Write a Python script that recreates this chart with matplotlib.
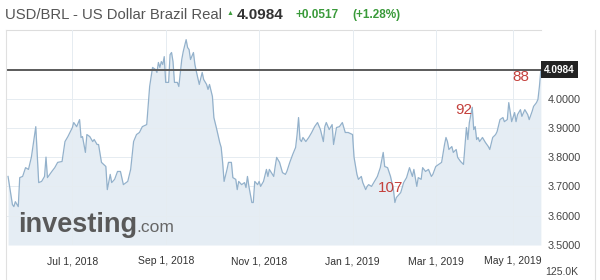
import numpy as np
import matplotlib
matplotlib.use("Agg")
import matplotlib.pyplot as plt
from matplotlib.lines import Line2D
import matplotlib.transforms as mtransforms

plt.rcParams['font.family'] = ['Liberation Sans', 'DejaVu Sans']

# days since 2018-05-17, daily close of USD/BRL
days = [0, 3, 4, 5, 7, 8, 10, 12, 14, 16, 19, 21, 23, 25, 26, 27, 30, 32, 34, 37,
        39, 41, 44, 45, 47, 49, 50, 51, 53, 54, 56, 58, 59, 61, 62, 64, 67, 68, 70, 71,
        73, 75, 77, 79, 82, 84, 86, 88, 90, 92, 95, 97, 99, 101, 102, 103, 104, 105, 106, 107,
        108, 110, 111, 112, 113, 114, 116, 117, 119, 120, 122, 123, 124, 125, 127, 128, 129, 131, 133, 134,
        136, 137, 138, 140, 141, 143, 145, 146, 147, 148, 150, 151, 153, 154, 156, 157, 158, 160, 162, 163,
        164, 165, 167, 168, 169, 171, 172, 173, 175, 177, 178, 179, 182, 183, 184, 186, 188, 190, 191, 193,
        195, 197, 198, 199, 200, 201, 202, 204, 206, 208, 210, 212, 214, 216, 217, 218, 220, 222, 223, 225,
        227, 229, 231, 233, 236, 237, 239, 240, 242, 243, 245, 246, 247, 249, 251, 253, 255, 257, 258, 260,
        262, 264, 265, 266, 269, 271, 273, 275, 277, 278, 280, 281, 283, 284, 286, 288, 290, 291, 293, 295,
        297, 299, 300, 301, 302, 304, 305, 307, 308, 310, 312, 313, 314, 315, 316, 318, 319, 320, 321, 322,
        323, 325, 327, 329, 330, 332, 334, 335, 337, 339, 340, 342, 343, 345, 347, 348, 349, 351, 352, 354,
        356, 357, 359, 360, 362, 363, 364, 365]
close = [3.734, 3.638, 3.631, 3.648, 3.631, 3.730, 3.734, 3.764, 3.758, 3.800, 3.904, 3.713, 3.717, 3.734, 3.800, 3.730, 3.751, 3.764, 3.782, 3.785,
         3.853, 3.870, 3.900, 3.918, 3.904, 3.928, 3.867, 3.870, 3.816, 3.877, 3.870, 3.853, 3.860, 3.843, 3.843, 3.782, 3.768, 3.689, 3.741, 3.713,
         3.724, 3.751, 3.751, 3.706, 3.717, 3.758, 3.853, 3.877, 3.884, 3.904, 3.911, 4.041, 4.106, 4.099, 4.089, 4.123, 4.106, 4.126, 4.116, 4.143,
         4.055, 4.055, 4.150, 4.157, 4.126, 4.055, 4.055, 4.041, 4.133, 4.160, 4.201, 4.174, 4.167, 4.133, 4.157, 4.116, 4.092, 4.048, 4.089, 4.065,
         4.048, 4.031, 4.048, 4.007, 3.935, 3.894, 3.850, 3.833, 3.782, 3.717, 3.758, 3.782, 3.782, 3.730, 3.724, 3.689, 3.717, 3.706, 3.713, 3.696,
         3.734, 3.700, 3.645, 3.645, 3.717, 3.706, 3.717, 3.700, 3.717, 3.758, 3.734, 3.758, 3.734, 3.768, 3.799, 3.782, 3.747, 3.741, 3.751, 3.782,
         3.809, 3.833, 3.877, 3.935, 3.860, 3.853, 3.867, 3.853, 3.867, 3.884, 3.904, 3.918, 3.894, 3.853, 3.904, 3.918, 3.894, 3.911, 3.843, 3.901,
         3.904, 3.918, 3.884, 3.884, 3.877, 3.800, 3.741, 3.724, 3.734, 3.713, 3.689, 3.700, 3.706, 3.700, 3.717, 3.734, 3.764, 3.816, 3.768, 3.764,
         3.734, 3.689, 3.645, 3.662, 3.679, 3.713, 3.730, 3.764, 3.734, 3.758, 3.700, 3.730, 3.724, 3.764, 3.751, 3.758, 3.734, 3.741, 3.768, 3.775,
         3.782, 3.843, 3.867, 3.853, 3.826, 3.836, 3.816, 3.826, 3.799, 3.785, 3.775, 3.836, 3.901, 3.860, 3.918, 3.970, 3.894, 3.904, 3.860, 3.867,
         3.853, 3.867, 3.850, 3.836, 3.826, 3.867, 3.877, 3.887, 3.928, 3.935, 3.921, 3.928, 3.986, 3.921, 3.952, 3.921, 3.945, 3.962, 3.939, 3.962,
         3.945, 3.928, 3.956, 3.973, 3.986, 3.997, 4.041, 4.0984]

tick_days = [44, 108, 172, 236, 293, 346]
tick_labels = ["Jul 1, 2018", "Sep 1, 2018", "Nov 1, 2018", "Jan 1, 2019", "Mar 1, 2019", "May 1, 2019"]
y_ticks = [3.5, 3.6, 3.7, 3.8, 3.9, 4.0]

last_price = 4.0984
change = "+0.0517"
change_pct = "(+1.28%)"

# red numbers written on the chart
note_days = [262, 312, 351]
note_vals = [3.693, 3.962, 4.072]
note_text = ["107", "92", "88"]

line_c = '#93b1cb'
fill_c = '#e5edf4'
green = '#3a9a3a'

fig = plt.figure(figsize=(6, 2.8), dpi=100)
ax = fig.add_axes([0.01, 0.125, 0.8917, 0.7696])

ax.fill_between(days, close, 3.5, color=fill_c, lw=0, zorder=1)
ax.plot(days, close, color=line_c, lw=0.9, zorder=3)
ax.axhline(last_price, color='#5a5a5a', lw=1.4, zorder=4)

ax.set_xlim(-1.4, 365.1)
ax.set_ylim(3.5, 4.2355)

ax.set_xticks(tick_days)
ax.set_xticklabels(tick_labels)
ax.set_yticks(y_ticks)
ax.set_yticklabels(["%.4f" % v for v in y_ticks])
ax.yaxis.tick_right()
ax.tick_params(axis='x', length=0, pad=8, labelsize=7.5, labelcolor='#333333')
ax.tick_params(axis='y', length=0, pad=5, labelsize=7.8, labelcolor='#444444')

ax.set_axisbelow(False)
ax.grid(color='#e6ecf1', lw=0.7, zorder=2)

for s in ['right', 'bottom', 'left']:
    ax.spines[s].set_visible(False)
ax.spines['top'].set_color('#dddddd')
ax.spines['top'].set_linewidth(0.8)

# price box on the right axis
trans = mtransforms.blended_transform_factory(ax.transAxes, ax.transData)
ax.text(1.006, last_price, "%.4f" % last_price, transform=trans, ha='left', va='center',
        color='white', fontsize=7.2, fontweight='bold', zorder=6,
        bbox=dict(boxstyle='square,pad=0.35', fc='#222222', ec='none'))

for d, v, t in zip(note_days, note_vals, note_text):
    ax.text(d, v, t, ha='center', va='center', color='#c4403c', fontsize=11, zorder=5)

# watermark
fig.text(18 / 600, 1 - 232 / 280, "investing", fontsize=19.5, fontweight='bold',
         color='#595959', va='baseline')
fig.text(136 / 600, 1 - 232 / 280, ".com", fontsize=12.5, color='#666666', va='baseline')

# header
base = 1 - 19 / 280
fig.text(5 / 600, base, "USD/BRL - US Dollar Brazil Real", fontsize=10.7, color='#555555', va='baseline')
fig.text(227 / 600, 1 - 15 / 280, "\u25B2", fontsize=5, color=green, va='baseline')
fig.text(237 / 600, base, "%.4f" % last_price, fontsize=11, fontweight='bold', color='#333333', va='baseline')
fig.text(295 / 600, 1 - 18 / 280, change, fontsize=8.5, fontweight='bold', color=green, va='baseline')
fig.text(352 / 600, 1 - 18 / 280, change_pct, fontsize=8.5, fontweight='bold', color=green, va='baseline')

fig.text(545 / 600, 1 - 272 / 280, "125.0K", fontsize=7.5, color='#444444', va='center')

# widget borders
fig.add_artist(Line2D([5.5 / 600, 5.5 / 600], [1 - 29.5 / 280, 0], color='#e0e0e0', lw=0.8))
fig.add_artist(Line2D([595 / 600, 595 / 600], [1 - 29.5 / 280, 0], color='#e0e0e0', lw=0.8))

fig.savefig("out.png", dpi=100)
